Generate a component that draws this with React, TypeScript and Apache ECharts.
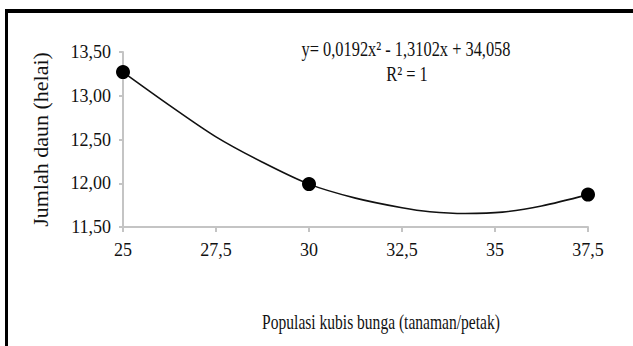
import React, { useEffect, useRef } from "react";
import * as echarts from "echarts";

// Observed data points
const xPoints = [25, 30, 37.5];
const yPoints = [13.27, 11.99, 11.87];

// Trendline values
const curveX = [25, 26.25, 27.5, 28.75, 30, 31.25, 32.5, 33.25, 34.2, 35.2, 36.25, 37.5];
const curveY = [13.27, 12.89, 12.53, 12.24, 11.99, 11.83, 11.72, 11.675, 11.655, 11.67, 11.74, 11.87];

const equationText = "y= 0,0192x² - 1,3102x + 34,058";
const r2Text = "R² = 1";
const xAxisTitle = "Populasi kubis bunga (tanaman/petak)";
const yAxisTitle = "Jumlah daun (helai)";

const FONT = "Times New Roman, Liberation Serif, Tinos, serif";

export default function App() {
  const ref = useRef<HTMLDivElement>(null);
  useEffect(() => {
    if (!ref.current) return;
    const chart = echarts.init(ref.current, null, { renderer: "svg" });
    chart.setOption({
      animation: false,
      backgroundColor: "#ffffff",
      textStyle: { fontFamily: FONT },
      grid: { left: 123, right: 45, top: 52, bottom: 119, containLabel: false },
      xAxis: {
        type: "value",
        min: 25,
        max: 37.5,
        interval: 2.5,
        axisLine: { show: true, lineStyle: { color: "#c4c4c4", width: 2 } },
        axisTick: { show: true, length: 5, lineStyle: { color: "#c4c4c4", width: 2 } },
        splitLine: { show: false },
        axisLabel: {
          color: "#111",
          fontFamily: FONT,
          fontSize: 18,
          margin: 14,
          formatter: (v: number) => String(v).replace(".", ","),
        },
      },
      yAxis: {
        type: "value",
        min: 11.5,
        max: 13.5,
        interval: 0.5,
        name: yAxisTitle,
        nameLocation: "middle",
        nameGap: 72,
        nameTextStyle: { color: "#111", fontFamily: FONT, fontSize: 22 },
        axisLine: { show: true, lineStyle: { color: "#c4c4c4", width: 2 } },
        axisTick: { show: true, length: 4, lineStyle: { color: "#c4c4c4", width: 2 } },
        splitLine: { show: false },
        axisLabel: {
          color: "#111",
          fontFamily: FONT,
          fontSize: 18,
          margin: 12,
          formatter: (v: number) => v.toFixed(2).replace(".", ","),
        },
      },
      series: [
        {
          type: "line",
          data: curveX.map((x, i) => [x, curveY[i]]),
          smooth: 0.3,
          smoothMonotone: "none",
          showSymbol: false,
          symbol: "none",
          lineStyle: { color: "#111", width: 1.6 },
          z: 2,
        },
        {
          type: "scatter",
          data: xPoints.map((x, i) => [x, yPoints[i]]),
          symbol: "circle",
          symbolSize: 14,
          itemStyle: { color: "#000", opacity: 1 },
          z: 3,
        },
      ],
      graphic: [
        { type: "rect", shape: { x: 5, y: 9, width: 628, height: 4 }, style: { fill: "#000" } },
        { type: "rect", shape: { x: 5, y: 9, width: 3, height: 337 }, style: { fill: "#000" } },
        {
          type: "text",
          x: 406,
          y: 49,
          scaleX: 0.78,
          style: {
            text: equationText,
            fontFamily: FONT,
            fontSize: 21,
            fill: "#111",
            align: "center",
            verticalAlign: "middle",
          },
        },
        {
          type: "text",
          x: 407,
          y: 74,
          scaleX: 0.78,
          style: {
            text: r2Text,
            fontFamily: FONT,
            fontSize: 21,
            fill: "#111",
            align: "center",
            verticalAlign: "middle",
          },
        },
        {
          type: "text",
          x: 381,
          y: 322,
          scaleX: 0.74,
          style: {
            text: xAxisTitle,
            fontFamily: FONT,
            fontSize: 21,
            fill: "#111",
            align: "center",
            verticalAlign: "middle",
          },
        },
      ],
    });
    return () => chart.dispose();
  }, []);
  return (
    <div
      ref={ref}
      style={{ position: "fixed", left: 0, top: 0, width: 633, height: 346 }}
    />
  );
}
